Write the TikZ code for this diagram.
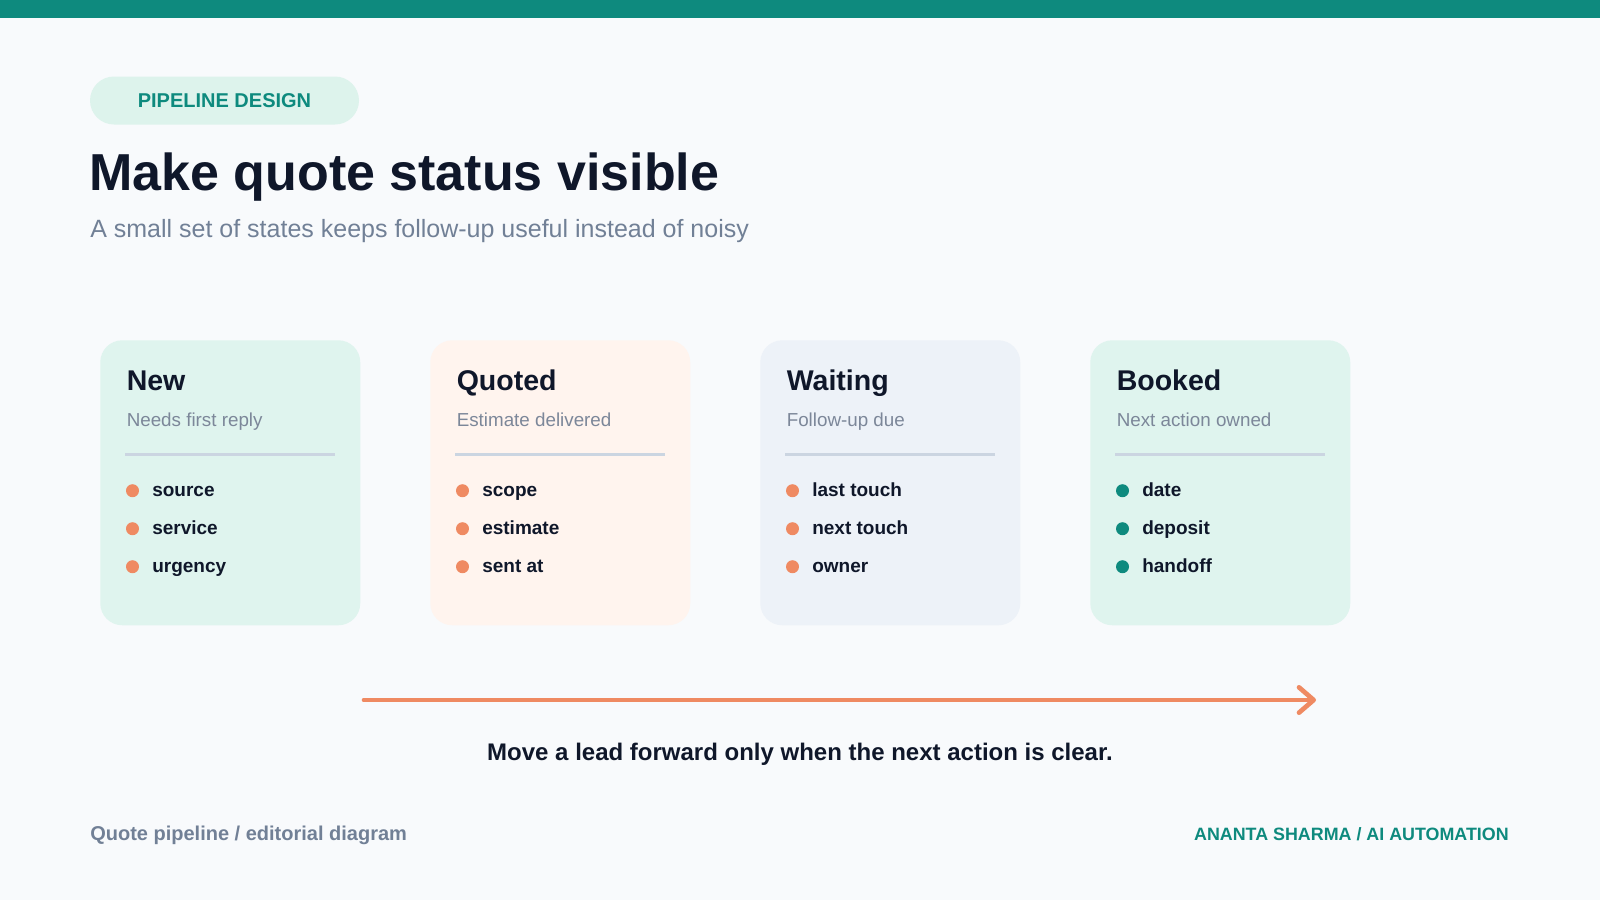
\documentclass[tikz,border=0pt]{standalone}
\usepackage{fontspec}
\setmainfont{Liberation Sans}
\usetikzlibrary{arrows.meta}

\definecolor{pagebg}{HTML}{F8FAFC}
\definecolor{tealc}{HTML}{0E8A7E}
\definecolor{pillfill}{HTML}{DDF3EC}
\definecolor{ink}{HTML}{0F172A}
\definecolor{subgray}{HTML}{718096}
\definecolor{cardgray}{HTML}{7C8799}
\definecolor{orangec}{HTML}{EF8A62}
\definecolor{rulec}{HTML}{CBD5E1}
\definecolor{mintc}{HTML}{DFF4EE}
\definecolor{peachc}{HTML}{FFF4EE}
\definecolor{slatec}{HTML}{EDF2F8}

\tikzset{
  cardbox/.style={rectangle, rounded corners=16.5pt, minimum width=195pt, minimum height=213.75pt, inner sep=0pt, draw=none},
  cardtitle/.style={anchor=base west, inner sep=0pt, text=ink, font=\fontsize{21.4pt}{25pt}\selectfont\bfseries},
  cardsub/.style={anchor=base west, inner sep=0pt, text=cardgray, font=\fontsize{14.1pt}{17pt}\selectfont},
  itemtext/.style={anchor=base west, inner sep=0pt, text=ink, font=\fontsize{14.25pt}{17pt}\selectfont\bfseries},
  dotmark/.style={circle, minimum size=9.75pt, inner sep=0pt, draw=none},
  divider/.style={draw=rulec, line width=2.25pt},
  flow/.style={draw=orangec, line width=3.5pt, line cap=round, -{Straight Barb[length=11pt,width=19pt,round]}},
}

\newcommand\stagecard[9]{%
  \node[cardbox, fill=#3, anchor=north west] (#1) at (#2,340) {};
  \node[cardtitle] (#1-title) at (#2+26.5,390) {#4};
  \node[cardsub] (#1-sub) at (#2+26.5,426) {#5};
  \draw[divider] (#2+25,454) -- (#2+235,454);
  \node[dotmark, fill=#6] (#1-d1) at (#2+32.5,490.7) {};
  \node[dotmark, fill=#6] (#1-d2) at (#2+32.5,528.7) {};
  \node[dotmark, fill=#6] (#1-d3) at (#2+32.5,566.7) {};
  \node[itemtext] (#1-i1) at (#2+52,496.5) {#7};
  \node[itemtext] (#1-i2) at (#2+52,534.5) {#8};
  \node[itemtext] (#1-i3) at (#2+52,572.5) {#9};
}

\begin{document}
\begin{tikzpicture}[x=0.75pt, y=-0.75pt]
  \useasboundingbox (0,0) rectangle (1600,900);
  \fill[pagebg] (0,0) rectangle (1600,900);
  \fill[tealc] (0,0) rectangle (1600,18);

  % header
  \node[rectangle, rounded corners=18pt, fill=pillfill, minimum width=201.75pt, minimum height=36pt, inner sep=0pt,
        text=tealc, font=\fontsize{15pt}{18pt}\selectfont\bfseries] (pill) at (224.5,100.5) {PIPELINE DESIGN};
  \node[anchor=base west, inner sep=0pt, text=ink, font=\fontsize{39pt}{45pt}\selectfont\bfseries] (title) at (89,190) {Make quote status visible};
  \node[anchor=base west, inner sep=0pt, text=subgray, font=\fontsize{18.75pt}{22pt}\selectfont] (subtitle) at (90,237) {A small set of states keeps follow-up useful instead of noisy};

  % cards
  \stagecard{new}{100}{mintc}{New}{Needs first reply}{orangec}{source}{service}{urgency}
  \stagecard{quoted}{430}{peachc}{Quoted}{Estimate delivered}{orangec}{scope}{estimate}{sent at}
  \stagecard{waiting}{760}{slatec}{Waiting}{Follow-up due}{orangec}{last touch}{next touch}{owner}
  \stagecard{booked}{1090}{mintc}{Booked}{Next action owned}{tealc}{date}{deposit}{handoff}

  % flow arrow
  \coordinate (flowstart) at (364,700);
  \coordinate (flowend) at (1316,700);
  \draw[flow] (flowstart) -- (flowend);
  \node[anchor=base, inner sep=0pt, text=ink, font=\fontsize{18pt}{22pt}\selectfont\bfseries] (caption) at (800,760) {Move a lead forward only when the next action is clear.};

  % footer
  \node[anchor=base west, inner sep=0pt, text=subgray, font=\fontsize{15pt}{18pt}\selectfont\bfseries] (footleft) at (90,840) {Quote pipeline / editorial diagram};
  \node[anchor=base east, inner sep=0pt, text=tealc, font=\fontsize{13.4pt}{16pt}\selectfont\bfseries] (footright) at (1509,840) {ANANTA SHARMA / AI AUTOMATION};
\end{tikzpicture}
\end{document}
